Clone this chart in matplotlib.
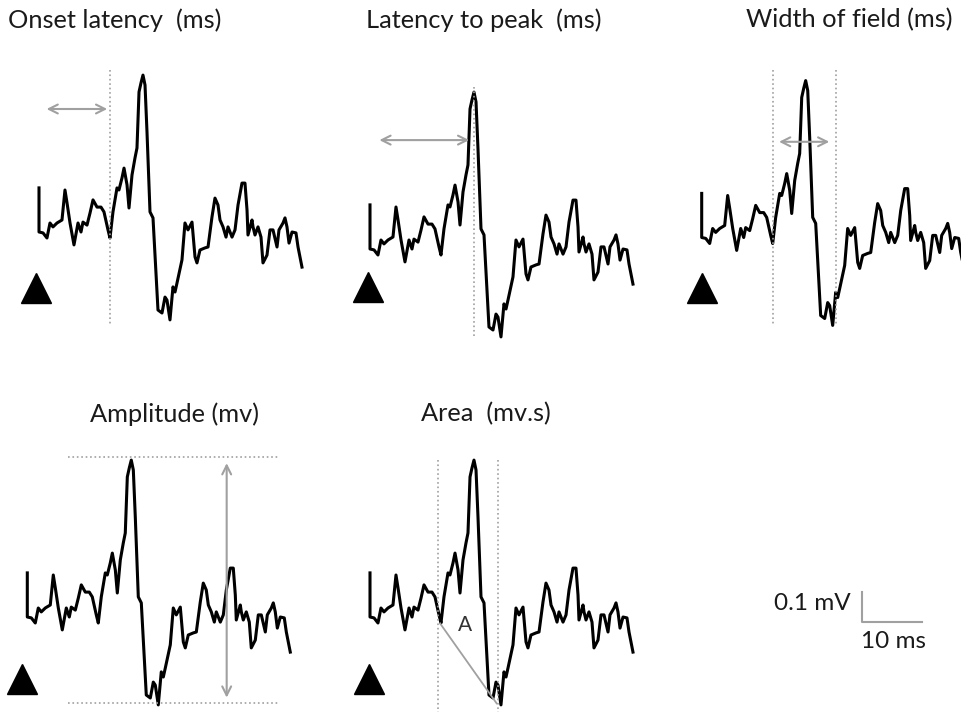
"""
诱发场电位参数示意图
"""

import matplotlib
matplotlib.use("Agg")
import matplotlib.pyplot as plt

plt.rcParams['font.family'] = ['Lato', 'DejaVu Sans']

# 场电位波形 (时间 ms, 电压 mV)
t_ms = [0.0, 0.0, 0.67, 1.33, 1.83, 2.33, 3.0, 3.83, 4.33, 4.67, 5.17, 5.83,
        6.5, 7.0, 7.33, 8.0, 8.5, 9.0, 9.67, 10.33, 10.83, 11.5, 11.83, 12.33,
        13.0, 13.33, 13.83, 14.17, 14.67, 15.0, 15.5, 16.0, 16.33, 16.67, 17.0,
        17.33, 17.67, 18.0, 18.5, 19.0, 19.83, 20.5, 21.0, 21.33, 21.83, 22.33,
        22.67, 23.0, 23.83, 24.33, 24.83, 25.5, 26.0, 26.33, 26.83, 27.67,
        28.17, 28.83, 29.33, 29.83, 30.17, 30.67, 31.17, 31.5, 32.17, 32.67,
        33.17, 33.83, 34.33, 34.67, 34.83, 35.5, 35.67, 36.0, 36.5, 37.0, 37.33,
        38.0, 38.5, 39.0, 39.67, 40.0, 40.67, 41.0, 41.33, 41.67, 42.17, 42.83,
        43.17, 43.83]
v_mv = [0.147, 0.0, -0.003, -0.02, 0.03, 0.017, 0.03, 0.04, 0.14, 0.097, 0.03,
        -0.043, 0.03, 0.0, 0.033, 0.023, 0.063, 0.107, 0.083, 0.083, 0.067,
        0.007, -0.02, 0.067, 0.147, 0.14, 0.18, 0.213, 0.157, 0.08, 0.19, 0.247,
        0.28, 0.467, 0.497, 0.523, 0.49, 0.333, 0.067, 0.047, -0.26, -0.27,
        -0.217, -0.227, -0.293, -0.183, -0.2, -0.17, -0.093, 0.03, 0.007, 0.033,
        -0.083, -0.103, -0.06, -0.053, -0.05, 0.05, 0.113, 0.09, 0.04, 0.017,
        -0.017, 0.017, -0.017, 0.007, 0.09, 0.163, 0.163, 0.073, -0.01, 0.04,
        0.017, -0.01, 0.017, -0.017, -0.103, -0.077, 0.007, 0.007, -0.05, 0.007,
        0.03, 0.047, 0.017, -0.037, 0.0, -0.003, -0.05, -0.117]

titles = ['Onset latency  (ms)', 'Latency to peak  (ms)', 'Width of field (ms)',
          'Amplitude (mv)', 'Area  (mv.s)']

# 测量标记
onset_ms = 11.83
peak_ms = 17.33
width_ms = [11.83, 22.33]
amp_mv = [0.532, -0.288]
area_ms = [11.39, 21.39]
area_line_ms = [11.67, 21.11]
area_line_mv = [-0.021, -0.288]

scale_ms = 10
scale_mv = 0.1

W, H = 962, 713
PX_MS = 6.0     # 像素/ms
PX_MV = 300.0   # 像素/mV

fig = plt.figure(figsize=(W / 100, H / 100), dpi=100)

GREY = '#a0a0a0'
DOT = '#a0a0a0'
TXT = '#1a1a1a'


def panel(x0, y0):
    """在像素位置 (x0, y0) 处建立 t=0, v=0 的坐标轴"""
    l, r, u, d = 45, 300, 180, 110
    ax = fig.add_axes([(x0 - l) / W, (H - (y0 + d)) / H,
                       (l + r) / W, (u + d) / H])
    ax.set_xlim(-l / PX_MS, r / PX_MS)
    ax.set_ylim(-d / PX_MV, u / PX_MV)
    ax.axis('off')
    ax.plot(t_ms, v_mv, color='black', lw=2.2, solid_joinstyle='round')
    return ax


def stim(ax, t, v):
    ax.plot([t], [v], marker='^', ms=21, color='black', clip_on=False)


def darrow(ax, p1, p2):
    ax.annotate('', xy=p2, xytext=p1,
                arrowprops=dict(arrowstyle='<->', color=GREY, lw=1.5,
                                mutation_scale=16))


# 1. Onset latency
ax1 = panel(39, 232)
ax1.plot([onset_ms, onset_ms], [0.54, -0.31], ls=':', color=DOT, lw=1.2)
darrow(ax1, (0.8, 0.41), (onset_ms, 0.41))
stim(ax1, -0.42, -0.185)

# 2. Latency to peak
ax2 = panel(370, 249)
ax2.plot([peak_ms, peak_ms], [0.54, -0.297], ls=':', color=DOT, lw=1.2)
darrow(ax2, (1.1, 0.363), (17.0, 0.363))
stim(ax2, -0.33, -0.128)

# 3. Width of field
ax3 = panel(701.7, 237.5)
for t in width_ms:
    ax3.plot([t, t], [0.558, -0.292], ls=':', color=DOT, lw=1.2)
darrow(ax3, (width_ms[0] + 0.6, 0.319), (width_ms[1] - 0.6, 0.319))
stim(ax3, 0.12, -0.167)

# 4. Amplitude
ax4 = panel(27.3, 617)
for v in amp_mv:
    ax4.plot([6.83, 41.83], [v, v], ls=':', color=DOT, lw=1.2)
darrow(ax4, (33.23, amp_mv[1] + 0.01), (33.23, amp_mv[0] - 0.01))
stim(ax4, -0.9, -0.205)

# 5. Area
ax5 = panel(370, 617)
for t in area_ms:
    ax5.plot([t, t], [0.523, -0.316], ls=':', color=DOT, lw=1.2)
ax5.plot(area_line_ms, area_line_mv, color=GREY, lw=1.3)
ax5.text(15.83, -0.027, 'A', fontsize=15, ha='center', va='center',
         color='#333333')
stim(ax5, -0.17, -0.205)

# 标题
title_pos = [(8, 20), (366, 20), (746, 20), (90, 414), (421, 414)]
for (x, y), s in zip(title_pos, titles):
    fig.text(x / W, 1 - y / H, s, fontsize=18.3, ha='left', va='center',
             color=TXT)

# 比例尺
sx, sy = 862, 622
axs = fig.add_axes([sx / W, (H - sy) / H, 80 / W, 40 / H])
axs.set_xlim(0, 80 / PX_MS)
axs.set_ylim(0, 40 / PX_MV)
axs.axis('off')
axs.plot([0, 0, scale_ms], [scale_mv, 0, 0], color=GREY, lw=1.5,
         clip_on=False)
fig.text(851 / W, 1 - 604 / H, '0.1 mV', fontsize=17.5, ha='right',
         va='center', color=TXT)
fig.text(861 / W, 1 - 642 / H, '10 ms', fontsize=17.5, ha='left',
         va='center', color=TXT)

fig.savefig('out.png', dpi=100)
